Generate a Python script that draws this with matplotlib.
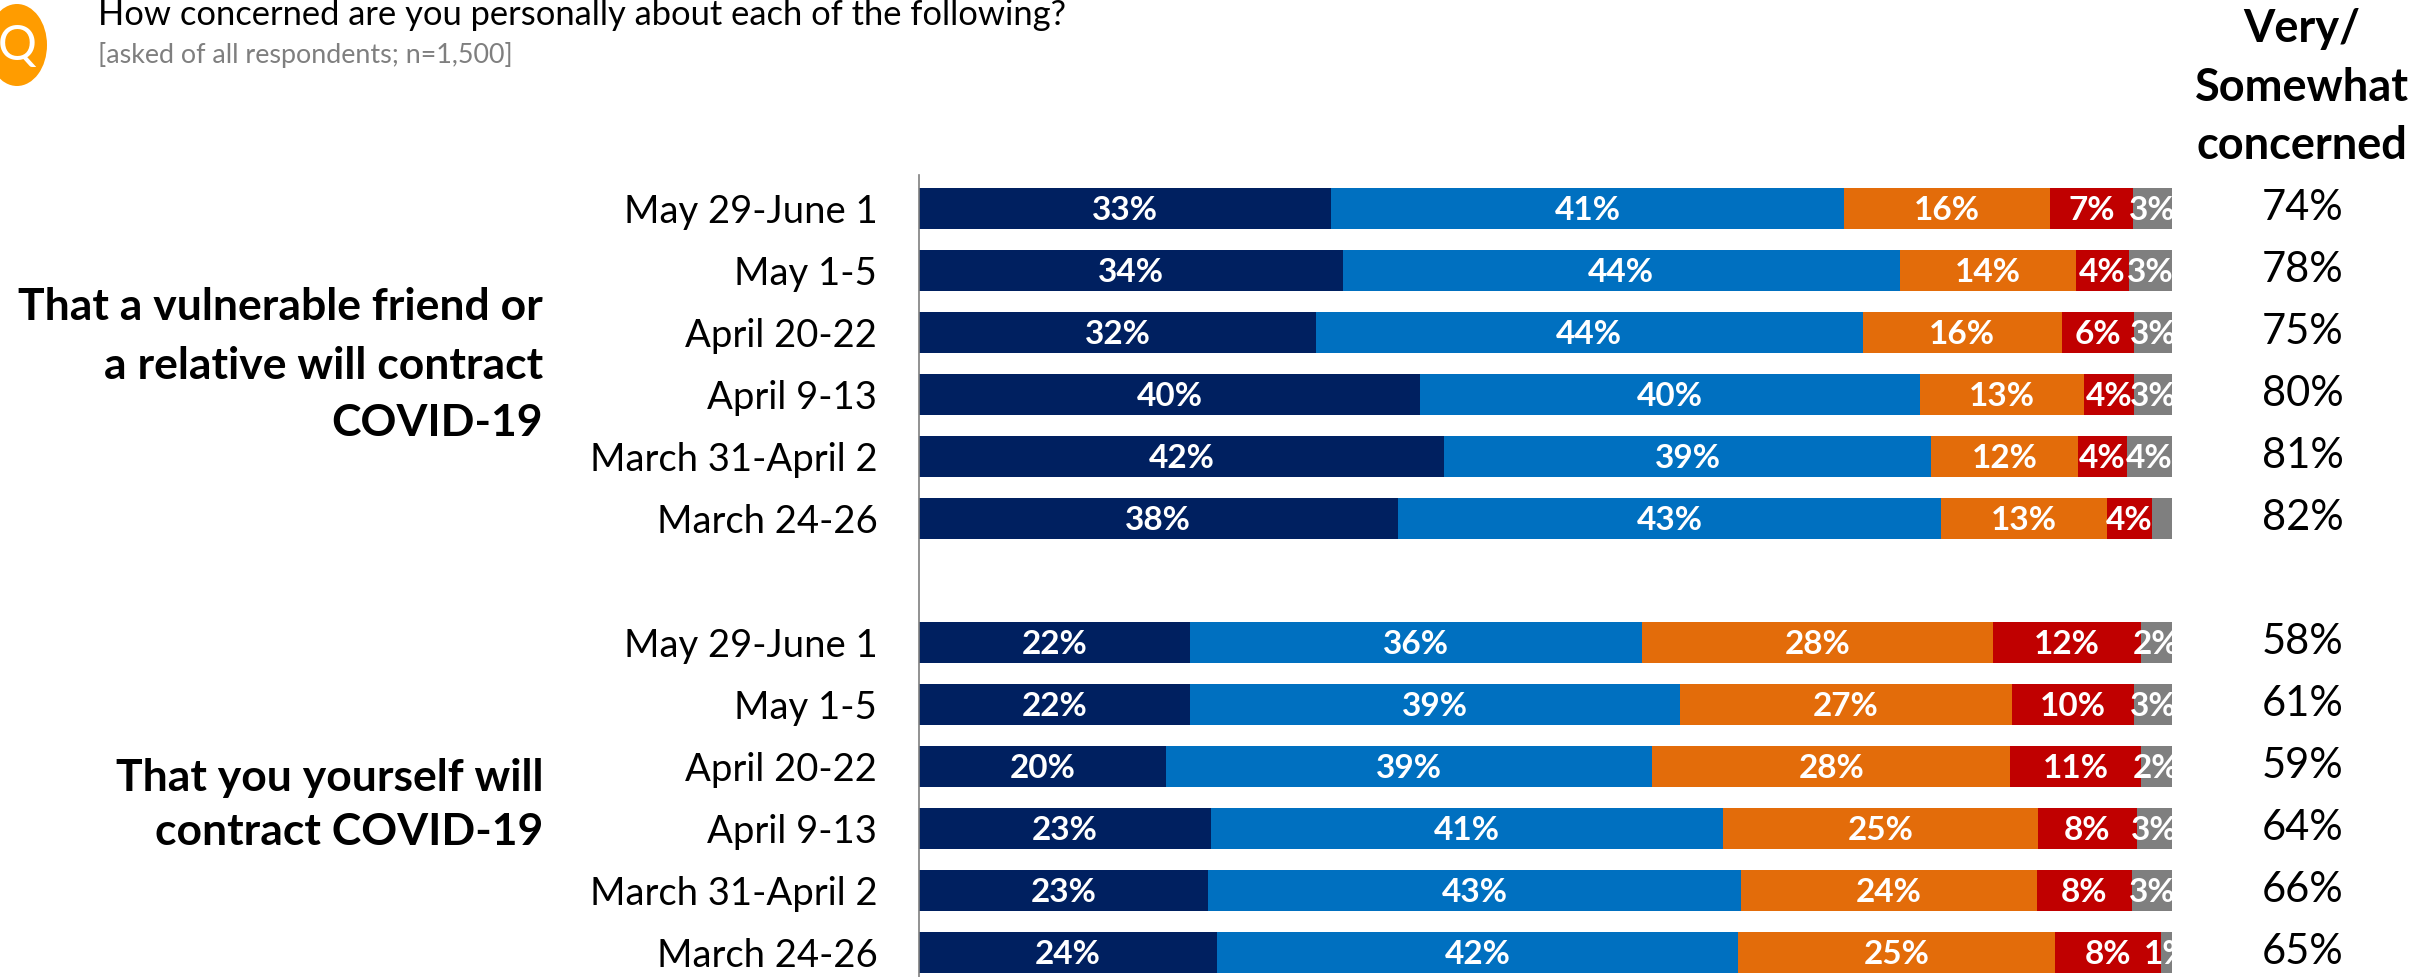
#!/usr/bin/env python3

import numpy as np
from matplotlib import pyplot as plt
from matplotlib.patches import Ellipse
plt.rcParams['font.family'] = ['Lato', 'DejaVu Sans']

W, H = 2413, 977

dates = ['May 29-June 1', 'May 1-5', 'April 20-22', 'April 9-13', 'March 31-April 2', 'March 24-26']
rows = [0, 1, 2, 3, 4, 5, 7, 8, 9, 10, 11, 12]
row_names = dates + dates

# widths as measured off the bars, they do not always equal the printed labels
very = [32.9, 33.8, 31.7, 40.0, 41.9, 38.2, 21.6, 21.6, 19.7, 23.3, 23.1, 23.8]
somewhat = [40.9, 44.5, 43.6, 39.9, 38.9, 43.4, 36.1, 39.1, 38.8, 40.9, 42.5, 41.6]
not_very = [16.5, 14.0, 15.9, 13.1, 11.7, 13.2, 28.0, 26.5, 28.6, 25.1, 23.6, 25.3]
not_at_all = [6.6, 4.3, 5.8, 4.0, 3.9, 3.6, 11.8, 9.8, 10.4, 7.9, 7.6, 8.4]
unsure = [3.1, 3.4, 3.0, 3.0, 3.6, 1.6, 2.5, 3.0, 2.5, 2.8, 3.2, 1.0]

very_lbl = ['33%', '34%', '32%', '40%', '42%', '38%', '22%', '22%', '20%', '23%', '23%', '24%']
somewhat_lbl = ['41%', '44%', '44%', '40%', '39%', '43%', '36%', '39%', '39%', '41%', '43%', '42%']
not_very_lbl = ['16%', '14%', '16%', '13%', '12%', '13%', '28%', '27%', '28%', '25%', '24%', '25%']
not_at_all_lbl = ['7%', '4%', '6%', '4%', '4%', '4%', '12%', '10%', '11%', '8%', '8%', '8%']
unsure_lbl = ['3%', '3%', '3%', '3%', '4%', '', '2%', '3%', '2%', '3%', '3%', '1%']
net = ['74%', '78%', '75%', '80%', '81%', '82%', '58%', '61%', '59%', '64%', '66%', '65%']

series = [very, somewhat, not_very, not_at_all, unsure]
labels = [very_lbl, somewhat_lbl, not_very_lbl, not_at_all_lbl, unsure_lbl]
colors = ['#002060', '#0070C0', '#E36C0A', '#C00000', '#7F7F7F']

if __name__ == '__main__':
  fig = plt.figure(figsize=(W / 100, H / 100), dpi=100)
  ax = fig.add_axes([919 / W, 0, 1253 / W, 802 / H])
  ax.set_xlim(0, 100)
  ax.set_ylim(12.4, -0.535)

  left = np.zeros(len(rows))
  for vals, lbls, color in zip(series, labels, colors):
    vals = np.array(vals)
    ax.barh(rows, vals, left=left, height=0.665, color=color)
    for y, v, x0, s in zip(rows, vals, left, lbls):
      ax.text(x0 + v / 2, y + 0.04, s, color='white', fontsize=24, fontweight='bold',
              ha='center', va='center', clip_on=True)
    left += vals

  ax.set_yticks(rows)
  ax.set_yticklabels(row_names, fontsize=27.5)
  ax.tick_params(axis='y', length=0, pad=30)
  ax.set_xticks([])
  for side in ['top', 'right', 'bottom']:
    ax.spines[side].set_visible(False)
  ax.spines['left'].set_color('#7F7F7F')
  ax.spines['left'].set_linewidth(1.2)

  for y, s in zip(rows, net):
    ax.text(1.1045, y, s, transform=ax.get_yaxis_transform(), fontsize=30,
            ha='center', va='center', clip_on=False)

  # annotations placed in figure pixels
  over = fig.add_axes([0, 0, 1, 1], facecolor='none')
  over.set_xlim(0, W)
  over.set_ylim(H, 0)
  over.axis('off')
  over.add_patch(Ellipse((17, 45), 60, 82, color='#FF9C00', lw=0))
  over.text(17, 46, 'Q', color='white', fontsize=35, ha='center', va='center')
  over.text(98, 15, 'How concerned are you personally about each of the following?',
            fontsize=24.8, va='center')
  over.text(98, 55, '[asked of all respondents; n=1,500]', fontsize=19.4, color='#7F7F7F', va='center')
  for y, s in zip([42, 101, 159], ['Very/', 'Somewhat', 'concerned']):
    over.text(2302, y, s, fontsize=32.5, fontweight='bold', ha='center', va='baseline')
  for y, s in zip([307, 366, 423], ['That a vulnerable friend or', 'a relative will contract', 'COVID-19']):
    over.text(543, y, s, fontsize=32, fontweight='bold', ha='right', va='center')
  for y, s in zip([778, 832], ['That you yourself will', 'contract COVID-19']):
    over.text(543, y, s, fontsize=32, fontweight='bold', ha='right', va='center')

  plt.savefig('out.png', dpi=100)
